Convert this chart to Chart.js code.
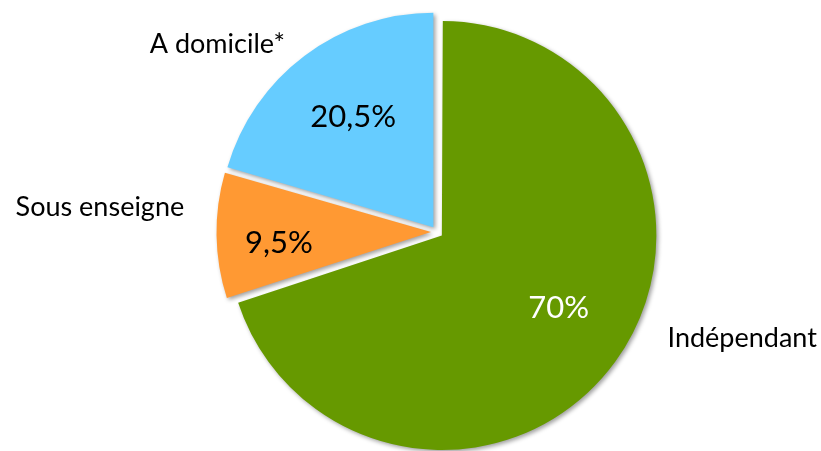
<!DOCTYPE html>
<html>
<head>
<meta charset="utf-8">
<script src="https://cdn.jsdelivr.net/npm/chart.js@4.4.0/dist/chart.umd.min.js"></script>
<style>
  html, body { margin: 0; padding: 0; background: #fff; }
  #wrap { width: 821px; height: 451px; position: relative; }
</style>
</head>
<body>
<div id="wrap"><canvas id="pie"></canvas></div>
<script>
// --- Données du graphique ---
const categories = ['Indépendant', 'Sous enseigne', 'A domicile*'];
const shares = [70, 9.5, 20.5];
const shareLabels = ['70%', '9,5%', '20,5%'];

const sliceColors = ['#669900', '#FF9933', '#66CCFF'];
const pctColors = ['#FFFFFF', '#000000', '#000000'];
const FONT = 'Lato, "Open Sans", sans-serif';
const RADIUS = 214.5;
const EXPLODE = 24; // chart.js v4 translate chaque secteur de offset/4 px

// placement des étiquettes : fraction du rayon + décalage d'angle (degrés)
const pctPlace = [{ f: 0.637, da: -4.5 }, { f: 0.71, da: -2.5 }, { f: 0.638, da: 1 }];
const catPlace = [{ f: 1.478, da: -16.9 }, { f: 1.548, da: 5.2 }, { f: 1.323, da: -12.4 }];

// même rayon pour tous les secteurs malgré l'explosion + ombre portée
const shadowPlugin = {
    id: 'sliceShadow',
    beforeDatasetsDraw(chart) {
        chart.getDatasetMeta(0).data.forEach(arc => {
            const circ = arc.endAngle - arc.startAngle;
            const fix = 1 - Math.sin(Math.min(Math.PI, circ));
            arc.outerRadius = RADIUS - (EXPLODE / 4) * fix;
        });
        const ctx = chart.ctx;
        ctx.save();
        ctx.shadowColor = 'rgba(0, 0, 0, 0.38)';
        ctx.shadowBlur = 4;
        ctx.shadowOffsetX = 2;
        ctx.shadowOffsetY = 2;
    },
    afterDatasetsDraw(chart) {
        chart.ctx.restore();
    }
};

function drawAt(ctx, arc, place, text, size, color) {
    const a = (arc.startAngle + arc.endAngle) / 2 + place.da * Math.PI / 180;
    const d = EXPLODE / 4 + place.f * RADIUS;
    const x = arc.x + Math.cos(a) * d;
    const y = arc.y + Math.sin(a) * d;
    ctx.font = size + 'px ' + FONT;
    ctx.fillStyle = color;
    ctx.textAlign = 'center';
    ctx.textBaseline = 'alphabetic';
    ctx.fillText(text, x, y + size * 0.36);
}

const labelPlugin = {
    id: 'sliceLabels',
    afterDraw(chart) {
        const ctx = chart.ctx;
        const arcs = chart.getDatasetMeta(0).data;
        ctx.save();
        arcs.forEach((arc, i) => {
            drawAt(ctx, arc, pctPlace[i], shareLabels[i], 31, pctColors[i]);
            drawAt(ctx, arc, catPlace[i], categories[i], 27, '#000000');
        });
        ctx.restore();
    }
};

new Chart(document.getElementById('pie'), {
    type: 'pie',
    data: {
        labels: categories,
        datasets: [{
            data: shares,
            backgroundColor: sliceColors,
            borderWidth: 0,
            offset: EXPLODE
        }]
    },
    options: {
        responsive: true,
        maintainAspectRatio: false,
        animation: false,
        radius: RADIUS,
        layout: { padding: { left: 53, right: 0, top: 13, bottom: 0 } },
        plugins: {
            legend: { display: false },
            tooltip: { enabled: false }
        }
    },
    plugins: [shadowPlugin, labelPlugin]
});
</script>
</body>
</html>
